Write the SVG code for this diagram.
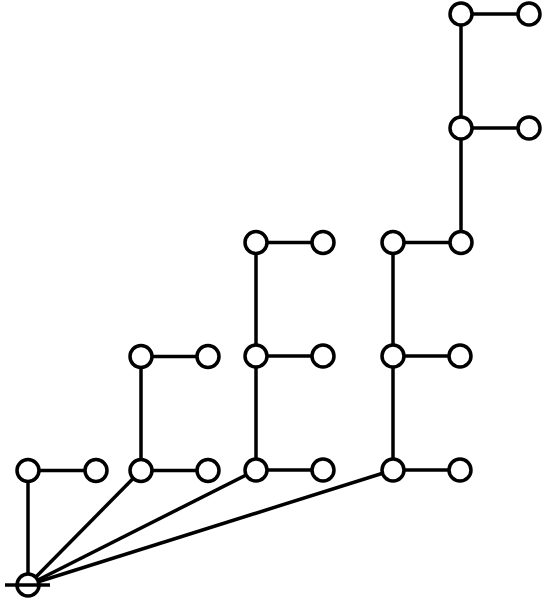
<svg xmlns="http://www.w3.org/2000/svg" width="545" height="600" viewBox="0 0 545 600">
<style>
.e{stroke:#000;stroke-width:3.5;fill:none}
.n{stroke:#000;stroke-width:3.5;fill:#fff}
</style>
<rect width="545" height="600" fill="#fff"/>
<g id="edges">
<line class="e" x1="28" y1="585" x2="28" y2="470.5"/>
<line class="e" x1="28" y1="585" x2="141" y2="470.5"/>
<line class="e" x1="28" y1="585" x2="256" y2="470"/>
<line class="e" x1="28" y1="585" x2="393" y2="470"/>
<line class="e" x1="28" y1="470.5" x2="96" y2="470.5"/>
<line class="e" x1="141" y1="470.5" x2="208" y2="470.5"/>
<line class="e" x1="141" y1="470.5" x2="141" y2="356.5"/>
<line class="e" x1="141" y1="356.5" x2="208" y2="356.5"/>
<line class="e" x1="256" y1="470" x2="323" y2="470"/>
<line class="e" x1="256" y1="470" x2="256" y2="242.5"/>
<line class="e" x1="256" y1="356" x2="323" y2="356"/>
<line class="e" x1="256" y1="242.5" x2="323" y2="242.5"/>
<line class="e" x1="393" y1="470" x2="460" y2="470"/>
<line class="e" x1="393" y1="470" x2="393" y2="242.5"/>
<line class="e" x1="393" y1="356" x2="460" y2="356"/>
<line class="e" x1="393" y1="242.5" x2="461" y2="242.5"/>
<line class="e" x1="461" y1="242.5" x2="461" y2="14"/>
<line class="e" x1="461" y1="128" x2="529" y2="128"/>
<line class="e" x1="461" y1="14" x2="529" y2="14"/>
</g>
<g id="root"><circle class="n" cx="28" cy="585" r="11"/><line class="e" x1="5" y1="585" x2="50" y2="585"/></g>
<g id="n1"><circle class="n" cx="28" cy="470.5" r="11"/></g>
<g id="n1a"><circle class="n" cx="96" cy="470.5" r="11"/></g>
<g id="n2"><circle class="n" cx="141" cy="470.5" r="11"/></g>
<g id="n2a"><circle class="n" cx="208" cy="470.5" r="11"/></g>
<g id="n2b"><circle class="n" cx="141" cy="356.5" r="11"/></g>
<g id="n2c"><circle class="n" cx="208" cy="356.5" r="11"/></g>
<g id="n3"><circle class="n" cx="256" cy="470" r="11"/></g>
<g id="n3a"><circle class="n" cx="323" cy="470" r="11"/></g>
<g id="n3b"><circle class="n" cx="256" cy="356" r="11"/></g>
<g id="n3c"><circle class="n" cx="323" cy="356" r="11"/></g>
<g id="n3d"><circle class="n" cx="256" cy="242.5" r="11"/></g>
<g id="n3e"><circle class="n" cx="323" cy="242.5" r="11"/></g>
<g id="n4"><circle class="n" cx="393" cy="470" r="11"/></g>
<g id="n4a"><circle class="n" cx="460" cy="470" r="11"/></g>
<g id="n4b"><circle class="n" cx="393" cy="356" r="11"/></g>
<g id="n4c"><circle class="n" cx="460" cy="356" r="11"/></g>
<g id="n4d"><circle class="n" cx="393" cy="242.5" r="11"/></g>
<g id="n4e"><circle class="n" cx="461" cy="242.5" r="11"/></g>
<g id="n4f"><circle class="n" cx="461" cy="128" r="11"/></g>
<g id="n4g"><circle class="n" cx="529" cy="128" r="11"/></g>
<g id="n4h"><circle class="n" cx="461" cy="14" r="11"/></g>
<g id="n4i"><circle class="n" cx="529" cy="14" r="11"/></g>
</svg>
